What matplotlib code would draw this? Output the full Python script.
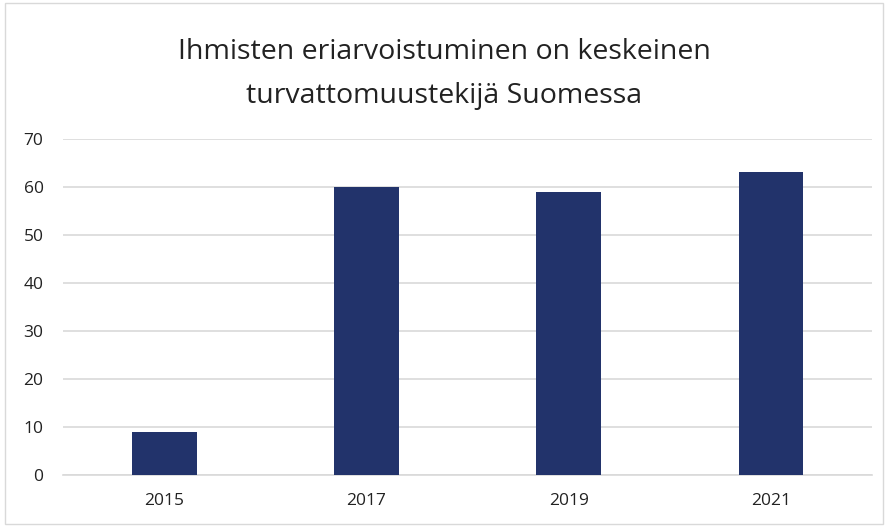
import matplotlib
matplotlib.use('Agg')
import matplotlib.pyplot as plt
from matplotlib.patches import Rectangle

# Data
years = ['2015', '2017', '2019', '2021']
values = [9, 60, 59, 63]
y_ticks = [0, 10, 20, 30, 40, 50, 60, 70]

bar_color = '#22336B'
grid_color = '#D9D9D9'

plt.rcParams['font.family'] = ['Open Sans', 'DejaVu Sans']

fig = plt.figure(figsize=(8.88, 5.26), dpi=100)
ax = fig.add_axes([0.071, 0.097, 0.911, 0.639])

x = range(len(years))
ax.bar(x, values, width=0.32, color=bar_color, zorder=3)

ax.set_xlim(-0.5, len(years) - 0.5)
ax.set_ylim(0, 70)
ax.set_yticks(y_ticks)
ax.set_xticks(list(x))
ax.set_xticklabels(years)
ax.tick_params(axis='both', length=0, labelsize=12.5, colors='#222222')
ax.tick_params(axis='y', pad=14)
ax.tick_params(axis='x', pad=13)

ax.yaxis.grid(True, color=grid_color, linewidth=1.2, zorder=0)
for side in ['top', 'right', 'left']:
    ax.spines[side].set_visible(False)
ax.spines['bottom'].set_color(grid_color)
ax.spines['bottom'].set_linewidth(1.2)

fig.text(0.5, 0.86, 'Ihmisten eriarvoistuminen on keskeinen\nturvattomuustekijä Suomessa',
         ha='center', va='center', fontsize=20.5, color='#222222', linespacing=1.75)

# light outer frame like the original chart box
fig.patches.append(Rectangle((0.006, 0.004), 0.988, 0.99, transform=fig.transFigure,
                             fill=False, edgecolor='#D9D9D9', linewidth=1))

fig.savefig('out.png', dpi=100)
